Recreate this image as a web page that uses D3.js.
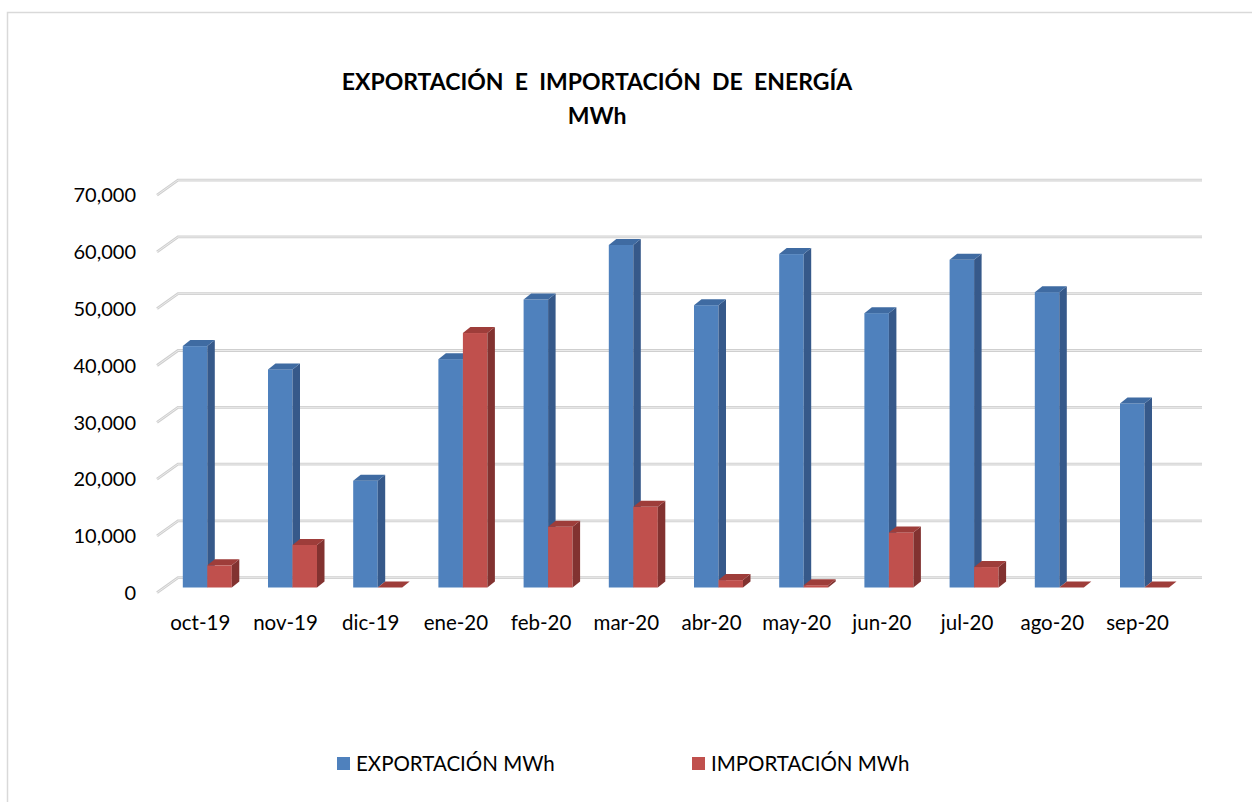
<!DOCTYPE html>
<html>
<head>
<meta charset="utf-8">
<script src="https://cdn.jsdelivr.net/npm/d3@7"></script>
<style>
  body { margin: 0; background: #fff; }
  svg { display: block; }
  text { font-family: Lato, "Open Sans", sans-serif; fill: #000; }
</style>
</head>
<body>
<div id="chart"></div>
<script>
// datos
const meses = ["oct-19", "nov-19", "dic-19", "ene-20", "feb-20", "mar-20",
               "abr-20", "may-20", "jun-20", "jul-20", "ago-20", "sep-20"];
const exportacion = [42500, 38400, 18800, 40200, 50700, 60300,
                     49700, 58700, 48300, 57700, 52000, 32400];
const importacion = [3900, 7500, 0, 44800, 10700, 14200,
                     1300, 400, 9700, 3600, 0, 0];
const ticksY = [0, 10000, 20000, 30000, 40000, 50000, 60000, 70000];
const series = [
  { name: "EXPORTACIÓN MWh", values: exportacion, front: "#4f81bd", side: "#36598a", top: "#3f6ba2" },
  { name: "IMPORTACIÓN MWh", values: importacion, front: "#c0504d", side: "#823230", top: "#9e3d3a" }
];

const width = 1252;
const height = 802;

const svg = d3.select("#chart").append("svg")
  .attr("width", width)
  .attr("height", height);

// marco del área del gráfico
svg.append("rect")
  .attr("x", 7.5).attr("y", 12.5)
  .attr("width", width + 20).attr("height", height + 20)
  .attr("fill", "none")
  .attr("stroke", "#d9d9d9")
  .attr("stroke-width", 1.5);

// escalas (plano frontal de las barras)
const y = d3.scaleLinear().domain([0, 70000]).range([587.5, 189.9]);
const x = d3.scaleBand().domain(meses).range([164.7, 1187.1]);
const barW = 24.5;
const depthX = 7.5, depthY = -6;     // profundidad de las barras
const frontOff = 5.2, backOff = -9.8; // piso: borde frontal / pared del fondo
const gridLeft = 157, wallLeft = 178, gridRight = 1202;

// líneas de cuadrícula en 3D
const grid = svg.append("g");
ticksY.forEach(t => {
  const yy = y(t);
  const pts = `${gridLeft},${yy + frontOff} ${wallLeft},${yy + backOff} ${gridRight},${yy + backOff}`;
  grid.append("polyline")
    .attr("points", pts)
    .attr("fill", "none")
    .attr("stroke", "#cfcfcf")
    .attr("stroke-width", 2.8);
  grid.append("polyline")
    .attr("points", pts)
    .attr("fill", "none")
    .attr("stroke", "#ebebeb")
    .attr("stroke-width", 1);
});

// etiquetas eje Y
svg.append("g").selectAll("text")
  .data(ticksY)
  .join("text")
  .attr("x", 136)
  .attr("y", d => y(d) + frontOff)
  .attr("dy", "0.36em")
  .attr("text-anchor", "end")
  .style("font-size", "20px")
  .text(d => d3.format(",")(d));

// barras 3D
const bars = svg.append("g");
meses.forEach((m, i) => {
  const x0 = x(m) + x.bandwidth() / 2 - barW;
  series.forEach((s, j) => {
    const v = s.values[i];
    const left = x0 + j * barW;
    const right = left + barW;
    const top = y(v);
    const base = y(0);
    if (v > 0) {
      // cara frontal
      bars.append("rect")
        .attr("x", left).attr("y", top)
        .attr("width", barW).attr("height", base - top)
        .attr("fill", s.front);
      // cara lateral
      bars.append("polygon")
        .attr("points", `${right},${top} ${right + depthX},${top + depthY} ${right + depthX},${base + depthY} ${right},${base}`)
        .attr("fill", s.side);
    }
    // cara superior
    bars.append("polygon")
      .attr("points", `${left},${top} ${left + depthX},${top + depthY} ${right + depthX},${top + depthY} ${right},${top}`)
      .attr("fill", s.top);
  });
});

// etiquetas eje X
svg.append("g").selectAll("text")
  .data(meses)
  .join("text")
  .attr("x", d => x(d) + x.bandwidth() / 2 - 7)
  .attr("y", 630)
  .attr("text-anchor", "middle")
  .style("font-size", "20.5px")
  .text(d => d);

// título
const title = svg.append("text")
  .attr("text-anchor", "middle")
  .style("font-size", "23px")
  .style("font-weight", "bold");
title.append("tspan").attr("x", 597).attr("y", 90)
  .style("white-space", "pre")
  .text("EXPORTACIÓN  E  IMPORTACIÓN  DE  ENERGÍA");
title.append("tspan").attr("x", 597).attr("y", 124).text("MWh");

// leyenda
const legendX = [337, 692];
const legend = svg.append("g");
series.forEach((s, j) => {
  legend.append("rect")
    .attr("x", legendX[j]).attr("y", 757)
    .attr("width", 13).attr("height", 13)
    .attr("fill", s.front);
  legend.append("text")
    .attr("x", legendX[j] + 19)
    .attr("y", 771)
    .style("font-size", "20.5px")
    .text(s.name);
});
</script>
</body>
</html>
